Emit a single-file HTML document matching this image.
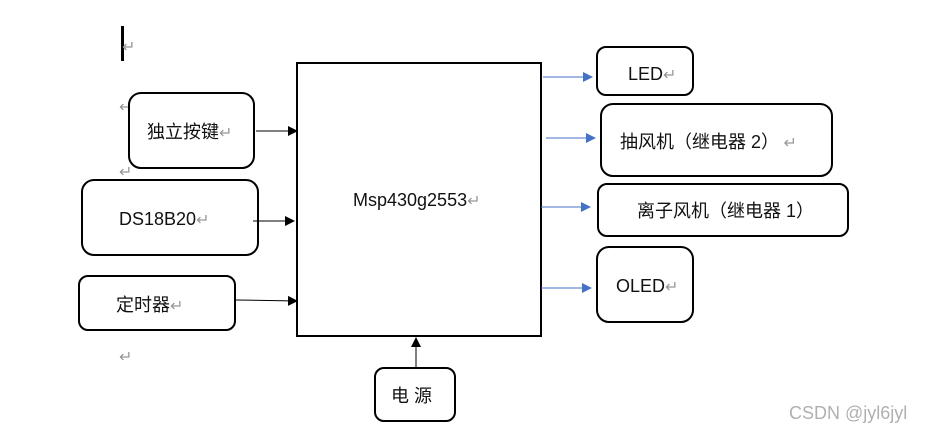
<!DOCTYPE html>
<html><head><meta charset="utf-8"><style>
html,body{margin:0;padding:0;background:#fff;width:928px;height:434px;overflow:hidden}
text{font-family:"Liberation Sans","Noto Sans CJK SC",sans-serif;font-size:18px;fill:#111}
.m{fill:#999;font-size:16px}
</style></head><body>
<svg width="928" height="434" viewBox="0 0 928 434" xmlns="http://www.w3.org/2000/svg">
<defs>
<marker id="k" markerWidth="10" markerHeight="10" refX="9" refY="5" orient="auto" markerUnits="userSpaceOnUse"><path d="M0,0 L10,5 L0,10z" fill="#000"/></marker>
<marker id="b" markerWidth="10" markerHeight="10" refX="9" refY="5" orient="auto" markerUnits="userSpaceOnUse"><path d="M0,0 L10,5 L0,10z" fill="#4472c4"/></marker>
</defs>
<rect x="121" y="26" width="3" height="35" fill="#000"/>
<text class="m" x="122" y="52">↵</text>
<text class="m" x="119" y="112">↵</text>
<text class="m" x="119" y="177">↵</text>
<text class="m" x="119" y="362">↵</text>
<rect x="297" y="63" width="244" height="273" fill="none" stroke="#000" stroke-width="2"/>
<text x="353" y="206">Msp430g2553<tspan class="m">↵</tspan></text>
<g fill="none" stroke="#000" stroke-width="2">
<rect x="129" y="93" width="125" height="75" rx="12"/>
<rect x="82" y="180" width="176" height="75" rx="12"/>
<rect x="79" y="276" width="156" height="54" rx="9"/>
<rect x="375" y="368" width="80" height="53" rx="9"/>
<rect x="597" y="47" width="96" height="48" rx="9"/>
<rect x="601" y="104" width="231" height="72" rx="12"/>
<rect x="598" y="184" width="250" height="52" rx="9"/>
<rect x="597" y="247" width="96" height="75" rx="12"/>
</g>
<text x="147" y="138">独立按键<tspan class="m">↵</tspan></text>
<text x="119" y="225">DS18B20<tspan class="m">↵</tspan></text>
<text x="116" y="311">定时器<tspan class="m">↵</tspan></text>
<text x="391" y="402">电 源</text>
<text x="628" y="80">LED<tspan class="m">↵</tspan></text>
<text x="620" y="148">抽风机（继电器 2）<tspan class="m"> ↵</tspan></text>
<text x="637" y="217">离子风机（继电器 1）</text>
<text x="616" y="292">OLED<tspan class="m">↵</tspan></text>
<g stroke="#000" stroke-width="1">
<line x1="256" y1="131" x2="297" y2="131" marker-end="url(#k)"/>
<line x1="253" y1="221" x2="294" y2="221" marker-end="url(#k)"/>
<line x1="236" y1="300" x2="297" y2="301" marker-end="url(#k)"/>
<line x1="416" y1="369" x2="416" y2="338" marker-end="url(#k)"/>
</g>
<g stroke="#4472c4" stroke-width="1">
<line x1="543" y1="77" x2="592" y2="77" marker-end="url(#b)"/>
<line x1="546" y1="138" x2="595" y2="138" marker-end="url(#b)"/>
<line x1="541" y1="207" x2="590" y2="207" marker-end="url(#b)"/>
<line x1="541" y1="288" x2="591" y2="288" marker-end="url(#b)"/>
</g>
<text x="789" y="419" style="fill:#b0b0b0;font-size:18px">CSDN @jyl6jyl</text>
</svg>
</body></html>
